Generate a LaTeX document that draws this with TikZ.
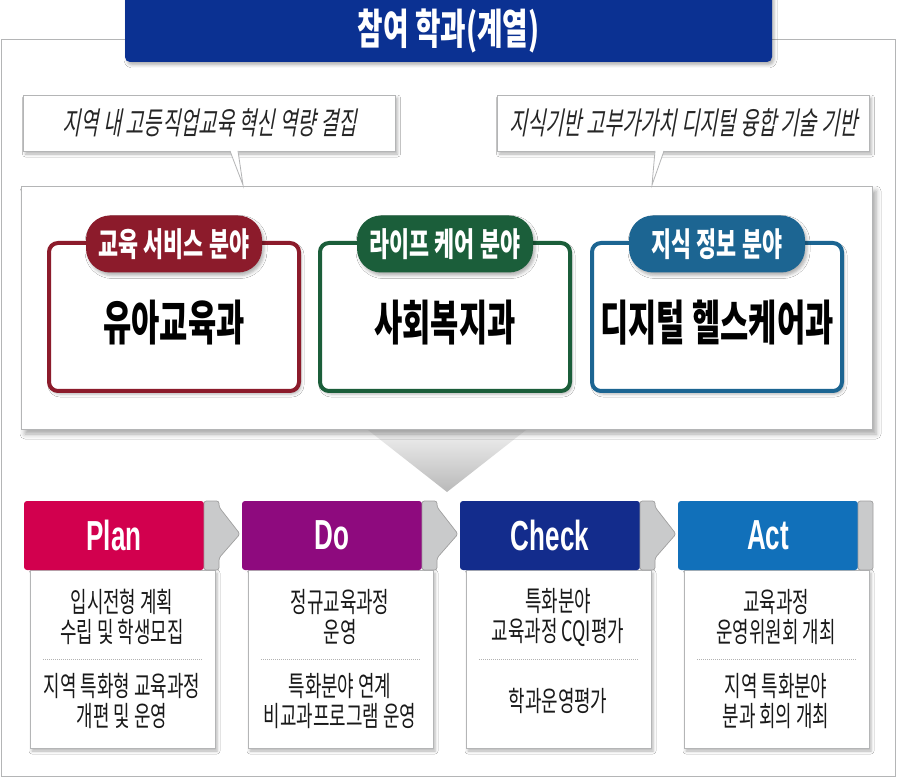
\documentclass[tikz,border=0pt]{standalone}
\usepackage{fontspec}
\usetikzlibrary{shadows.blur,calc}
\newfontfamily\kr[FakeStretch=0.66]{Noto Sans CJK KR}
\newfontfamily\krn[FakeStretch=0.64]{Noto Sans CJK KR}
\newfontfamily\kri[FakeStretch=0.635,FakeSlant=0.18]{Noto Sans CJK KR}
\newfontfamily\lat[FakeStretch=0.62]{Liberation Sans}
\definecolor{titleblue}{HTML}{0B3192}
\definecolor{cred}{HTML}{8C1B2B}
\definecolor{cgreen}{HTML}{1B5E3A}
\definecolor{cblue}{HTML}{1C6592}
\definecolor{cplan}{HTML}{D2004E}
\definecolor{cdo}{HTML}{8E0A7E}
\definecolor{ccheck}{HTML}{132C8C}
\definecolor{cact}{HTML}{1170BA}
\definecolor{tabgray}{HTML}{C9CACB}
\definecolor{framegray}{HTML}{B4B5B6}
\tikzset{
  every node/.style={inner sep=0pt, outer sep=0pt},
  softshadow/.style={blur shadow={shadow xshift=2pt, shadow yshift=-3pt, shadow blur radius=3pt, shadow opacity=30}},
  bigshadow/.style={blur shadow={shadow xshift=4pt, shadow yshift=-5pt, shadow blur radius=5pt, shadow opacity=35}},
  titletext/.style={text=white, font=\kr\bfseries\fontsize{42}{44}\selectfont},
  bubble/.style={draw=framegray, fill=white, line width=0.8pt, minimum width=372pt, minimum height=56pt, softshadow, text=black!85, font=\kri\fontsize{31}{34}\selectfont},
  tailline/.style={draw=framegray, line width=0.8pt},
  mainbox/.style={draw=framegray, fill=white, line width=0.8pt, minimum width=851pt, minimum height=243pt, bigshadow},
  dept/.style={draw=#1, line width=4pt, fill=white, rounded corners=9pt, minimum width=250pt, minimum height=148pt, softshadow},
  pill/.style={fill=#1, rounded corners=24pt, minimum width=176pt, minimum height=57pt, softshadow, text=white, font=\kr\bfseries\fontsize{33}{36}\selectfont},
  deptname/.style={text=black, font=\krn\bfseries\fontsize{48}{52}\selectfont},
  hdr/.style={fill=#1, rounded corners=3pt, minimum width=180pt, minimum height=69pt, text=white, font=\lat\bfseries\fontsize{42}{44}\selectfont},
  tab/.style={fill=tabgray, draw=gray!75, line width=0.7pt, rounded corners=2.5pt},
  bodybox/.style={draw=framegray, fill=white, line width=0.8pt, minimum width=185pt, minimum height=178pt, softshadow},
  btxt/.style={align=center, text=black!90, font=\krn\fontsize{28}{30}\selectfont},
  sepline/.style={draw=gray!60, line width=0.6pt, dash pattern=on 1pt off 1pt},
}
\begin{document}
\begin{tikzpicture}[x=1pt,y=-1pt]
\useasboundingbox (0,0) rectangle (898,778);
\fill[white] (0,0) rectangle (898,778);
% outer frame
\draw[framegray, line width=1pt] (1,40) rectangle (895,776);
% title banner
\path[fill=titleblue, rounded corners=5pt, softshadow] (125,-10) rectangle (772,62);
\node[titletext] (title) at (448.5,31) {참여 학과(계열)};
% chevron
\shade[top color=gray!12, bottom color=gray!55] (368,430) -- (526,430) -- (447,492) -- cycle;
% main box
\node[mainbox] (main) at (446.5,307.5) {};
% bubbles
\node[bubble] (b1) at (209.5,123) {지역 내 고등직업교육 혁신 역량 결집};
\node[bubble] (b2) at (683.5,123) {지식기반 고부가가치 디지털 융합 기술 기반};
\coordinate (t1) at (243,185);
\coordinate (t2) at (652,185);
\fill[white] ([xshift=20.5pt,yshift=1pt]b1.south) -- (t1) -- ([xshift=28.5pt,yshift=1pt]b1.south) -- cycle;
\draw[tailline] ([xshift=20.5pt]b1.south) -- (t1) -- ([xshift=28.5pt]b1.south);
\fill[white] ([xshift=-28.5pt,yshift=1pt]b2.south) -- (t2) -- ([xshift=-19.5pt,yshift=1pt]b2.south) -- cycle;
\draw[tailline] ([xshift=-28.5pt]b2.south) -- (t2) -- ([xshift=-19.5pt]b2.south);
% departments
\node[dept=cred] (d1) at (174,317) {};
\node[dept=cgreen] (d2) at (445,317) {};
\node[dept=cblue] (d3) at (717,317) {};
\node[pill=cred] (p1) at (174,244) {교육 서비스 분야};
\node[pill=cgreen] (p2) at (445,244) {라이프 케어 분야};
\node[pill=cblue] (p3) at (717,244) {지식 정보 분야};
\node[deptname] (n1) at (174,323) {유아교육과};
\node[deptname] (n2) at (445,323) {사회복지과};
\node[deptname] (n3) at (717,323) {디지털 헬스케어과};
% PDCA bodies
\node[bodybox] (pb) at (122.5,659) {};
\node[bodybox] (db) at (340.5,659) {};
\node[bodybox] (cb) at (558.5,659) {};
\node[bodybox] (ab) at (776.5,659) {};
% headers
\node[hdr=cplan] (ph) at (114,535.5) {Plan};
\node[hdr=cdo] (dh) at (332,535.5) {Do};
\node[hdr=ccheck] (ch) at (550,535.5) {Check};
\node[hdr=cact] (ah) at (768,535.5) {Act};
% tabs with arrows
\draw[tab] (ph.north east) -- ++(15,0) -- ++(0,6) -- ++(21,27) -- ++(-21,24) -- ++(0,12) -- ++(-15,0) -- cycle;
\draw[tab] (dh.north east) -- ++(15,0) -- ++(0,6) -- ++(21,27) -- ++(-21,24) -- ++(0,12) -- ++(-15,0) -- cycle;
\draw[tab] (ch.north east) -- ++(15,0) -- ++(0,6) -- ++(21,27) -- ++(-21,24) -- ++(0,12) -- ++(-15,0) -- cycle;
\draw[tab] (ah.north east) -- ++(15,0) -- ++(0,69) -- ++(-15,0) -- cycle;
% separators
\draw[sepline] ([xshift=13pt]pb.west) -- ([xshift=-13pt]pb.east);
\draw[sepline] ([xshift=13pt]db.west) -- ([xshift=-13pt]db.east);
\draw[sepline] ([xshift=13pt]cb.west) -- ([xshift=-13pt]cb.east);
\draw[sepline] ([xshift=13pt]ab.west) -- ([xshift=-13pt]ab.east);
% body texts
\node[btxt] (pt1) at ([xshift=-0.5pt,yshift=42pt]pb.center) {입시전형 계획\\수립 및 학생모집};
\node[btxt] (pt2) at ([xshift=-0.5pt,yshift=-42pt]pb.center) {지역 특화형 교육과정\\개편 및 운영};
\node[btxt] (dt1) at ([xshift=-0.5pt,yshift=42pt]db.center) {정규교육과정\\운영};
\node[btxt] (dt2) at ([xshift=-0.5pt,yshift=-42pt]db.center) {특화분야 연계\\비교과프로그램 운영};
\node[btxt] (ct1) at ([xshift=-0.5pt,yshift=42pt]cb.center) {특화분야\\교육과정 CQI평가};
\node[btxt] (ct2) at ([xshift=-0.5pt,yshift=-42pt]cb.center) {학과운영평가};
\node[btxt] (at1) at ([xshift=-0.5pt,yshift=42pt]ab.center) {교육과정\\운영위원회 개최};
\node[btxt] (at2) at ([xshift=-0.5pt,yshift=-42pt]ab.center) {지역 특화분야\\분과 회의 개최};
\end{tikzpicture}
\end{document}
